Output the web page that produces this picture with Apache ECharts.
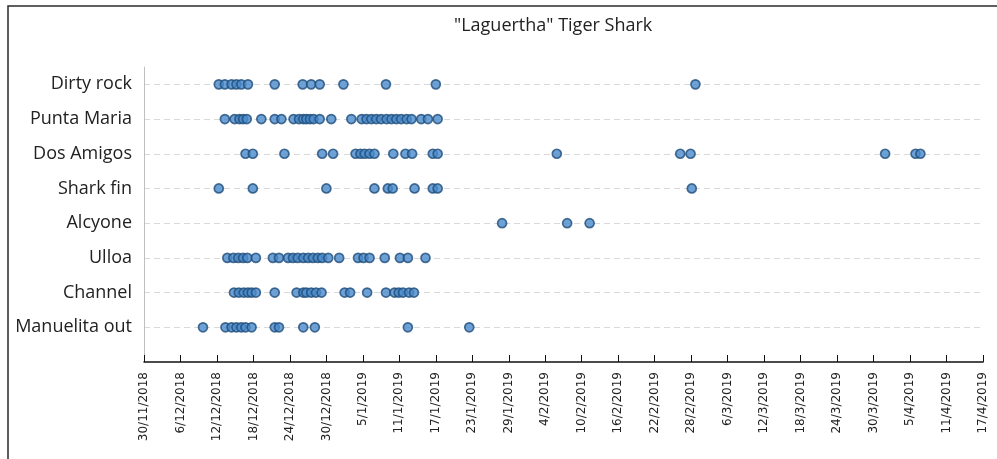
<!DOCTYPE html>
<html>
<head>
<meta charset="utf-8">
<title>"Laguertha" Tiger Shark</title>
<script src="https://cdn.jsdelivr.net/npm/echarts@6/dist/echarts.min.js"></script>
<style>
  html, body { margin: 0; padding: 0; background: #fff; }
  #chart { width: 997px; height: 459px; }
</style>
</head>
<body>
<div id="chart"></div>
<script>
// detections, as days since 30/11/2018
const startDate = Date.UTC(2018, 10, 30)

// receivers, bottom to top
const locations = ['Manuelita out', 'Channel', 'Ulloa', 'Alcyone', 'Shark fin', 'Dos Amigos', 'Punta Maria', 'Dirty rock']

const manuelitaOut = [9.7, 13.4, 14.4, 15.2, 16.0, 16.7, 17.7, 21.5, 22.2, 26.2, 28.1, 43.4, 53.5]
const channel = [14.8, 15.6, 16.4, 17.1, 17.7, 18.4, 21.5, 25.1, 26.2, 26.7, 27.5, 28.3, 29.2, 33.0, 33.9, 36.7, 39.8, 41.2, 41.9, 42.6, 43.6, 44.4]
const ulloa = [13.7, 14.7, 15.5, 16.3, 17.0, 18.4, 21.2, 22.2, 23.7, 24.5, 25.3, 26.2, 27.0, 27.8, 28.6, 29.3, 30.3, 32.1, 35.2, 36.1, 37.1, 39.6, 42.1, 43.4, 46.3]
const alcyone = [58.9, 69.6, 73.3]
const sharkFin = [12.3, 17.9, 30.0, 37.9, 40.1, 40.9, 44.5, 47.5, 48.3, 90.1]
const dosAmigos = [16.7, 17.9, 23.1, 29.3, 31.1, 34.8, 35.6, 36.3, 37.1, 37.9, 41.0, 43.0, 44.1, 47.5, 48.3, 67.9, 88.2, 89.9, 121.9, 126.9, 127.7]
const puntaMaria = [13.3, 14.9, 15.7, 16.3, 16.9, 19.3, 21.5, 22.6, 24.6, 25.5, 26.2, 26.7, 27.3, 27.9, 28.9, 30.8, 34.1, 35.8, 36.6, 37.4, 38.2, 39.0, 39.9, 40.7, 41.5, 42.3, 43.2, 44.0, 45.6, 46.7, 48.3]
const dirtyRock = [12.3, 13.3, 14.4, 15.2, 16.0, 17.1, 21.5, 26.1, 27.5, 28.9, 32.8, 39.8, 48.0, 90.7]

const rows = [manuelitaOut, channel, ulloa, alcyone, sharkFin, dosAmigos, puntaMaria, dirtyRock]

// x axis: 30/11/2018 .. 17/4/2019, tick every 6 days
const axisDays = 138
const tickStep = 6

const fmtDate = (days) => {
  const d = new Date(startDate + days * 86400000)
  return d.getUTCDate() + '/' + (d.getUTCMonth() + 1) + '/' + d.getUTCFullYear()
}

const chart = echarts.init(document.getElementById('chart'))

const option = {
  animation: false,
  backgroundColor: '#fff',
  title: {
    text: '"Laguertha" Tiger Shark',
    left: 449,
    top: 12,
    textStyle: {
      fontFamily: 'Open Sans',
      fontSize: 18,
      fontWeight: 'normal',
      color: '#222'
    }
  },
  graphic: [
    {
      type: 'rect',
      shape: { x: 8, y: 6, width: 1000, height: 470 },
      style: { fill: 'none', stroke: '#2b2b2b', lineWidth: 1.5 },
      silent: true
    }
  ],
  grid: {
    left: 144,
    right: 14,
    top: 67,
    bottom: 97
  },
  xAxis: {
    type: 'value',
    min: 0,
    max: axisDays,
    interval: tickStep,
    axisLine: { show: true, lineStyle: { color: '#111', width: 1.5 } },
    axisTick: { show: true, inside: true, length: 7, lineStyle: { color: '#111' } },
    splitLine: { show: false },
    axisLabel: {
      rotate: 90,
      margin: 10,
      fontFamily: 'DejaVu Sans',
      fontSize: 12,
      color: '#222',
      showMinLabel: true,
      showMaxLabel: true,
      formatter: (v) => fmtDate(v)
    }
  },
  yAxis: {
    type: 'value',
    min: 0,
    max: 8.5,
    interval: 1,
    axisLine: { show: true, lineStyle: { color: '#bfbfbf', width: 1 } },
    axisTick: { show: false },
    splitLine: {
      show: true,
      showMinLine: false,
      showMaxLine: false,
      lineStyle: { color: '#d9d9d9', type: [6, 4], width: 1 }
    },
    axisLabel: {
      margin: 12,
      fontFamily: 'Open Sans',
      fontSize: 18,
      color: '#222',
      padding: [0, 0, 10, 0],
      formatter: (v) => (v >= 1 && v <= locations.length && v % 1 === 0 ? locations[v - 1] : '')
    }
  },
  series: rows.map((days, i) => ({
    name: locations[i],
    type: 'scatter',
    symbol: 'circle',
    symbolSize: 9,
    itemStyle: {
      color: '#4a8bcc',
      borderColor: '#1f4d7a',
      borderWidth: 1.7
    },
    data: days.map((d) => [d, i + 1])
  }))
}

chart.setOption(option)
</script>
</body>
</html>
